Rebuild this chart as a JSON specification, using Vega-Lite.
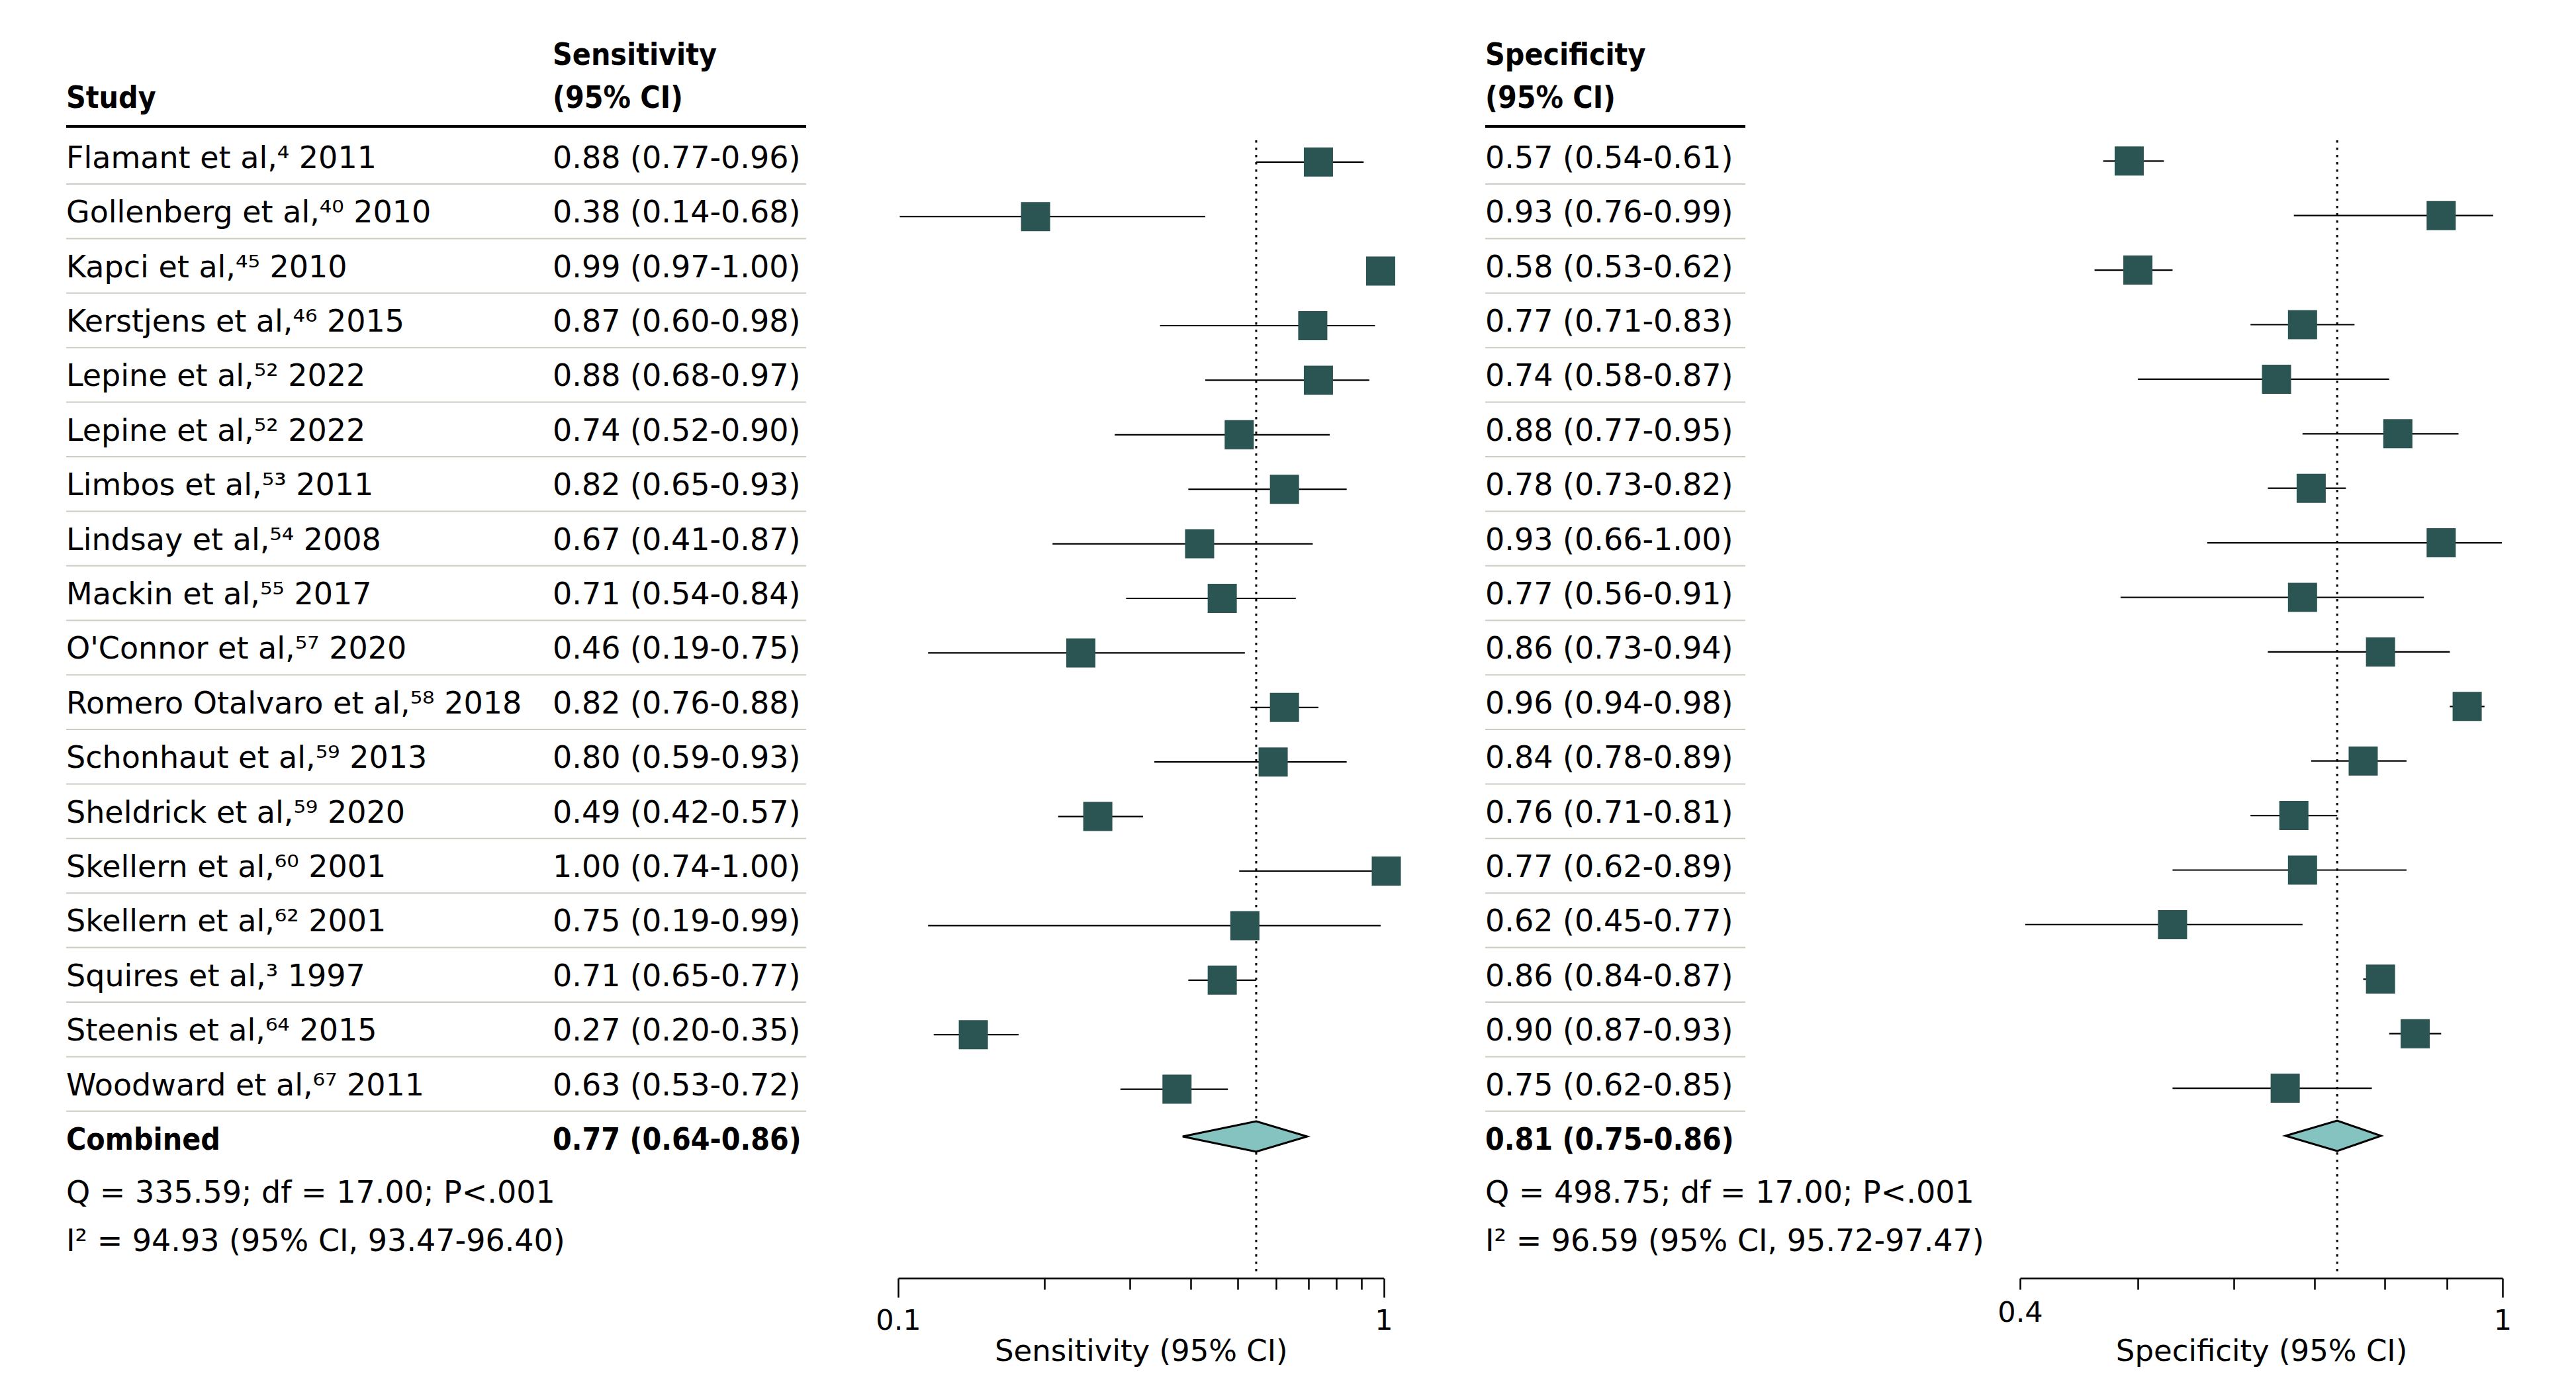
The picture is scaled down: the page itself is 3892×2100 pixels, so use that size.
{
  "$schema": "https://vega.github.io/schema/vega-lite/v6.json",
  "background": "white",
  "padding": {"left": 98, "top": 30.8, "right": 100, "bottom": 168},
  "bounds": "flush",
  "spacing": 0,
  "datasets": {
    "studies": [
      {"id": "1", "study": "Flamant et al,⁴ 2011", "sens": 0.88, "sensLo": 0.77, "sensHi": 0.96, "sensText": "0.88 (0.77-0.96)", "spec": 0.57, "specLo": 0.54, "specHi": 0.61, "specText": "0.57 (0.54-0.61)"},
      {"id": "2", "study": "Gollenberg et al,⁴⁰ 2010", "sens": 0.38, "sensLo": 0.14, "sensHi": 0.68, "sensText": "0.38 (0.14-0.68)", "spec": 0.93, "specLo": 0.76, "specHi": 0.99, "specText": "0.93 (0.76-0.99)"},
      {"id": "3", "study": "Kapci et al,⁴⁵ 2010", "sens": 0.99, "sensLo": 0.97, "sensHi": 1.0, "sensText": "0.99 (0.97-1.00)", "spec": 0.58, "specLo": 0.53, "specHi": 0.62, "specText": "0.58 (0.53-0.62)"},
      {"id": "4", "study": "Kerstjens et al,⁴⁶ 2015", "sens": 0.87, "sensLo": 0.6, "sensHi": 0.98, "sensText": "0.87 (0.60-0.98)", "spec": 0.77, "specLo": 0.71, "specHi": 0.83, "specText": "0.77 (0.71-0.83)"},
      {"id": "5", "study": "Lepine et al,⁵² 2022", "sens": 0.88, "sensLo": 0.68, "sensHi": 0.97, "sensText": "0.88 (0.68-0.97)", "spec": 0.74, "specLo": 0.58, "specHi": 0.87, "specText": "0.74 (0.58-0.87)"},
      {"id": "6", "study": "Lepine et al,⁵² 2022", "sens": 0.74, "sensLo": 0.52, "sensHi": 0.9, "sensText": "0.74 (0.52-0.90)", "spec": 0.88, "specLo": 0.77, "specHi": 0.95, "specText": "0.88 (0.77-0.95)"},
      {"id": "7", "study": "Limbos et al,⁵³ 2011", "sens": 0.82, "sensLo": 0.65, "sensHi": 0.93, "sensText": "0.82 (0.65-0.93)", "spec": 0.78, "specLo": 0.73, "specHi": 0.82, "specText": "0.78 (0.73-0.82)"},
      {"id": "8", "study": "Lindsay et al,⁵⁴ 2008", "sens": 0.67, "sensLo": 0.41, "sensHi": 0.87, "sensText": "0.67 (0.41-0.87)", "spec": 0.93, "specLo": 0.66, "specHi": 1.0, "specText": "0.93 (0.66-1.00)"},
      {"id": "9", "study": "Mackin et al,⁵⁵ 2017", "sens": 0.71, "sensLo": 0.54, "sensHi": 0.84, "sensText": "0.71 (0.54-0.84)", "spec": 0.77, "specLo": 0.56, "specHi": 0.91, "specText": "0.77 (0.56-0.91)"},
      {"id": "10", "study": "O'Connor et al,⁵⁷ 2020", "sens": 0.46, "sensLo": 0.19, "sensHi": 0.75, "sensText": "0.46 (0.19-0.75)", "spec": 0.86, "specLo": 0.73, "specHi": 0.94, "specText": "0.86 (0.73-0.94)"},
      {"id": "11", "study": "Romero Otalvaro et al,⁵⁸ 2018", "sens": 0.82, "sensLo": 0.76, "sensHi": 0.88, "sensText": "0.82 (0.76-0.88)", "spec": 0.96, "specLo": 0.94, "specHi": 0.98, "specText": "0.96 (0.94-0.98)"},
      {"id": "12", "study": "Schonhaut et al,⁵⁹ 2013", "sens": 0.8, "sensLo": 0.59, "sensHi": 0.93, "sensText": "0.80 (0.59-0.93)", "spec": 0.84, "specLo": 0.78, "specHi": 0.89, "specText": "0.84 (0.78-0.89)"},
      {"id": "13", "study": "Sheldrick et al,⁵⁹ 2020", "sens": 0.49, "sensLo": 0.42, "sensHi": 0.57, "sensText": "0.49 (0.42-0.57)", "spec": 0.76, "specLo": 0.71, "specHi": 0.81, "specText": "0.76 (0.71-0.81)"},
      {"id": "14", "study": "Skellern et al,⁶⁰ 2001", "sens": 1.0, "sensLo": 0.74, "sensHi": 1.0, "sensText": "1.00 (0.74-1.00)", "spec": 0.77, "specLo": 0.62, "specHi": 0.89, "specText": "0.77 (0.62-0.89)"},
      {"id": "15", "study": "Skellern et al,⁶² 2001", "sens": 0.75, "sensLo": 0.19, "sensHi": 0.99, "sensText": "0.75 (0.19-0.99)", "spec": 0.62, "specLo": 0.45, "specHi": 0.77, "specText": "0.62 (0.45-0.77)"},
      {"id": "16", "study": "Squires et al,³ 1997", "sens": 0.71, "sensLo": 0.65, "sensHi": 0.77, "sensText": "0.71 (0.65-0.77)", "spec": 0.86, "specLo": 0.84, "specHi": 0.87, "specText": "0.86 (0.84-0.87)"},
      {"id": "17", "study": "Steenis et al,⁶⁴ 2015", "sens": 0.27, "sensLo": 0.2, "sensHi": 0.35, "sensText": "0.27 (0.20-0.35)", "spec": 0.9, "specLo": 0.87, "specHi": 0.93, "specText": "0.90 (0.87-0.93)"},
      {"id": "18", "study": "Woodward et al,⁶⁷ 2011", "sens": 0.63, "sensLo": 0.53, "sensHi": 0.72, "sensText": "0.63 (0.53-0.72)", "spec": 0.75, "specLo": 0.62, "specHi": 0.85, "specText": "0.75 (0.62-0.85)"},
      {"id": "c", "study": "Combined", "sens": 0.77, "sensLo": 0.64, "sensHi": 0.86, "sensText": "0.77 (0.64-0.86)", "spec": 0.81, "specLo": 0.75, "specHi": 0.86, "specText": "0.81 (0.75-0.86)"}
    ]
  },
  "hconcat": [
    {
      "width": 735,
      "height": 1895.2,
      "encoding": {"y": {"field": "id", "type": "nominal", "scale": {"type": "band", "domain": ["h1","h2","1","2","3","4","5","6","7","8","9","10","11","12","13","14","15","16","17","18","c","q","i"], "paddingInner": 0, "paddingOuter": 0}, "axis": null}},
      "layer": [
        {"data": {"name": "studies"}, "transform": [{"filter": "datum.id != 'c'"}], "mark": {"type": "rule", "color": "#c8cfc2", "strokeWidth": 2}, "encoding": {"y": {"field": "id", "type": "nominal", "bandPosition": 1}}},
        {"data": {"values": [{"id": "h2"}]}, "mark": {"type": "rule", "color": "black", "strokeWidth": 4, "yOffset": -4.6}, "encoding": {"y": {"field": "id", "type": "nominal", "bandPosition": 1}}},
        {"data": {"name": "studies"}, "transform": [{"filter": "datum.id != 'c'"}], "mark": {"type": "text", "dy": 3}, "encoding": {"x": {"value": 0}, "text": {"field": "study"}}},
        {"data": {"name": "studies"}, "transform": [{"filter": "datum.id == 'c'"}], "mark": {"type": "text", "dy": 3, "fontWeight": "bold", "font": "DejaVu Sans Condensed, DejaVu Sans"}, "encoding": {"x": {"value": 0}, "text": {"field": "study"}}},
        {"data": {"values": [{"id": "h2", "text": "Study"}]}, "mark": {"type": "text", "dy": -5, "fontWeight": "bold", "font": "DejaVu Sans Condensed, DejaVu Sans"}, "encoding": {"x": {"value": 0}, "text": {"field": "text"}}},
        {"data": {"values": [{"id": "q", "text": "Q = 335.59; df = 17.00; P<.001"}]}, "mark": {"type": "text", "dy": 1}, "encoding": {"x": {"value": 0}, "text": {"field": "text"}}},
        {"data": {"values": [{"id": "i", "text": "I² = 94.93 (95% CI, 93.47-96.40)"}]}, "mark": {"type": "text", "dy": -9}, "encoding": {"x": {"value": 0}, "text": {"field": "text"}}}
      ]
    },
    {
      "width": 383,
      "height": 1895.2,
      "encoding": {"y": {"field": "id", "type": "nominal", "scale": {"type": "band", "domain": ["h1","h2","1","2","3","4","5","6","7","8","9","10","11","12","13","14","15","16","17","18","c","q","i"], "paddingInner": 0, "paddingOuter": 0}, "axis": null}},
      "layer": [
        {"data": {"name": "studies"}, "transform": [{"filter": "datum.id != 'c'"}], "mark": {"type": "rule", "color": "#c8cfc2", "strokeWidth": 2}, "encoding": {"y": {"field": "id", "type": "nominal", "bandPosition": 1}}},
        {"data": {"values": [{"id": "h2"}]}, "mark": {"type": "rule", "color": "black", "strokeWidth": 4, "yOffset": -4.6}, "encoding": {"y": {"field": "id", "type": "nominal", "bandPosition": 1}}},
        {"data": {"name": "studies"}, "transform": [{"filter": "datum.id != 'c'"}], "mark": {"type": "text", "dy": 3}, "encoding": {"x": {"value": 0}, "text": {"field": "sensText"}}},
        {"data": {"name": "studies"}, "transform": [{"filter": "datum.id == 'c'"}], "mark": {"type": "text", "dy": 3, "fontWeight": "bold", "font": "DejaVu Sans Condensed, DejaVu Sans"}, "encoding": {"x": {"value": 0}, "text": {"field": "sensText"}}},
        {"data": {"values": [{"id": "h1", "text": "Sensitivity"}]}, "mark": {"type": "text", "dy": 12, "fontWeight": "bold", "font": "DejaVu Sans Condensed, DejaVu Sans"}, "encoding": {"x": {"value": 0}, "text": {"field": "text"}}},
        {"data": {"values": [{"id": "h2", "text": "(95% CI)"}]}, "mark": {"type": "text", "dy": -5, "fontWeight": "bold", "font": "DejaVu Sans Condensed, DejaVu Sans"}, "encoding": {"x": {"value": 0}, "text": {"field": "text"}}}
      ]
    },
    {"width": 138.5, "height": 1895.2, "data": {"values": []}, "mark": "point"},
    {
      "width": 733.5,
      "height": 1895.2,
      "data": {"name": "studies"},
      "encoding": {"y": {"field": "id", "type": "nominal", "scale": {"type": "band", "domain": ["h1","h2","1","2","3","4","5","6","7","8","9","10","11","12","13","14","15","16","17","18","c","q","i"], "paddingInner": 0, "paddingOuter": 0}, "axis": null}},
      "layer": [
        {
          "transform": [{"filter": "datum.id == 'c'"}],
          "mark": {"type": "point", "opacity": 0},
          "encoding": {
            "x": {"field": "sens", "type": "quantitative", "scale": {"type": "log", "domain": [0.1, 1], "nice": false},
              "axis": {"orient": "bottom", "offset": 5, "values": [0.1, 0.2, 0.3, 0.4, 0.5, 0.6, 0.7, 0.8, 0.9, 1],
                "labelExpr": "datum.value == 1 ? '1' : (datum.value == 0.1 ? '0.1' : '')",
                "tickSize": {"condition": {"test": "datum.value == 0.1 || datum.value == 1", "value": 29}, "value": 17},
                "tickWidth": 2.5, "tickColor": "black", "domainColor": "black", "domainWidth": 2.5, "grid": false,
                "labelFontSize": 43, "labelColor": "black", "labelPadding": 14, "labelOverlap": false, "labelFlush": false, "labelBound": false,
                "title": "Sensitivity (95% CI)", "titleFontSize": 45, "titleFontWeight": "normal", "titleColor": "black", "titlePadding": 2}}
          }
        },
        {
          "encoding": {"x": {"field": "sens", "type": "quantitative", "scale": {"type": "linear", "domain": [0.1371, 0.9953], "nice": false, "zero": false}, "axis": null}},
          "layer": [
            {"transform": [{"filter": "datum.id == 'c'"}], "mark": {"type": "rule", "color": "black", "strokeWidth": 3, "strokeDash": [3.5, 7.5]},
              "encoding": {"y": {"datum": "1", "type": "nominal", "bandPosition": 0.2}, "y2": {"value": "height"}}},
            {"transform": [{"filter": "datum.id != 'c'"}], "mark": {"type": "rule", "color": "black", "strokeWidth": 2.2, "yOffset": 8},
              "encoding": {"x": {"field": "sensLo", "type": "quantitative"}, "x2": {"field": "sensHi"}}},
            {"transform": [{"filter": "datum.id != 'c'"}], "mark": {"type": "point", "shape": "square", "filled": true, "size": 1936, "color": "#2b5553", "opacity": 1, "strokeWidth": 0, "yOffset": 8}},
            {"transform": [{"filter": "datum.id == 'c'"}], "mark": {"type": "point", "shape": "M-4.83,0L0,-1L3.35,0L0,1Z", "size": 2116, "filled": true, "fill": "#85c3c1", "stroke": "black", "strokeWidth": 3, "opacity": 1, "yOffset": -3}}
          ]
        }
      ],
      "resolve": {"scale": {"x": "independent"}}
    },
    {"width": 153, "height": 1895.2, "data": {"values": []}, "mark": "point"},
    {
      "width": 393,
      "height": 1895.2,
      "encoding": {"y": {"field": "id", "type": "nominal", "scale": {"type": "band", "domain": ["h1","h2","1","2","3","4","5","6","7","8","9","10","11","12","13","14","15","16","17","18","c","q","i"], "paddingInner": 0, "paddingOuter": 0}, "axis": null}},
      "layer": [
        {"data": {"name": "studies"}, "transform": [{"filter": "datum.id != 'c'"}], "mark": {"type": "rule", "color": "#c8cfc2", "strokeWidth": 2}, "encoding": {"y": {"field": "id", "type": "nominal", "bandPosition": 1}}},
        {"data": {"values": [{"id": "h2"}]}, "mark": {"type": "rule", "color": "black", "strokeWidth": 4, "yOffset": -4.6}, "encoding": {"y": {"field": "id", "type": "nominal", "bandPosition": 1}}},
        {"data": {"name": "studies"}, "transform": [{"filter": "datum.id != 'c'"}], "mark": {"type": "text", "dy": 3}, "encoding": {"x": {"value": 0}, "text": {"field": "specText"}}},
        {"data": {"name": "studies"}, "transform": [{"filter": "datum.id == 'c'"}], "mark": {"type": "text", "dy": 3, "fontWeight": "bold", "font": "DejaVu Sans Condensed, DejaVu Sans"}, "encoding": {"x": {"value": 0}, "text": {"field": "specText"}}},
        {"data": {"values": [{"id": "h1", "text": "Specificity"}]}, "mark": {"type": "text", "dy": 12, "fontWeight": "bold", "font": "DejaVu Sans Condensed, DejaVu Sans"}, "encoding": {"x": {"value": 0}, "text": {"field": "text"}}},
        {"data": {"values": [{"id": "h2", "text": "(95% CI)"}]}, "mark": {"type": "text", "dy": -5, "fontWeight": "bold", "font": "DejaVu Sans Condensed, DejaVu Sans"}, "encoding": {"x": {"value": 0}, "text": {"field": "text"}}},
        {"data": {"values": [{"id": "q", "text": "Q = 498.75; df = 17.00; P<.001"}]}, "mark": {"type": "text", "dy": 1}, "encoding": {"x": {"value": 0}, "text": {"field": "text"}}},
        {"data": {"values": [{"id": "i", "text": "I² = 96.59 (95% CI, 95.72-97.47)"}]}, "mark": {"type": "text", "dy": -9}, "encoding": {"x": {"value": 0}, "text": {"field": "text"}}}
      ]
    },
    {"width": 415, "height": 1895.2, "data": {"values": []}, "mark": "point"},
    {
      "width": 729,
      "height": 1895.2,
      "data": {"name": "studies"},
      "encoding": {"y": {"field": "id", "type": "nominal", "scale": {"type": "band", "domain": ["h1","h2","1","2","3","4","5","6","7","8","9","10","11","12","13","14","15","16","17","18","c","q","i"], "paddingInner": 0, "paddingOuter": 0}, "axis": null}},
      "layer": [
        {
          "transform": [{"filter": "datum.id == 'c'"}],
          "mark": {"type": "point", "opacity": 0},
          "encoding": {
            "x": {"field": "spec", "type": "quantitative", "scale": {"type": "log", "domain": [0.4, 1], "nice": false},
              "axis": {"orient": "bottom", "offset": 5, "values": [0.4, 0.5, 0.6, 0.7, 0.8, 0.9, 1],
                "labelExpr": "datum.value == 1 ? '1' : (datum.value == 0.4 ? '0.4' : '')",
                "tickSize": {"condition": {"test": "datum.value == 1", "value": 29}, "value": 17},
                "tickWidth": 2.5, "tickColor": "black", "domainColor": "black", "domainWidth": 2.5, "grid": false,
                "labelFontSize": 43, "labelColor": "black", "labelPadding": 14, "labelOverlap": false, "labelFlush": false, "labelBound": false,
                "title": "Specificity (95% CI)", "titleFontSize": 45, "titleFontWeight": "normal", "titleColor": "black", "titlePadding": 2}}
          }
        },
        {
          "encoding": {"x": {"field": "spec", "type": "quantitative", "scale": {"type": "linear", "domain": [0.444, 1.0008], "nice": false, "zero": false}, "axis": null}},
          "layer": [
            {"transform": [{"filter": "datum.id == 'c'"}], "mark": {"type": "rule", "color": "black", "strokeWidth": 3, "strokeDash": [3.5, 7.5]},
              "encoding": {"y": {"datum": "1", "type": "nominal", "bandPosition": 0.2}, "y2": {"value": "height"}}},
            {"transform": [{"filter": "datum.id != 'c'"}], "mark": {"type": "rule", "color": "black", "strokeWidth": 2.2, "yOffset": 6.5},
              "encoding": {"x": {"field": "specLo", "type": "quantitative"}, "x2": {"field": "specHi"}}},
            {"transform": [{"filter": "datum.id != 'c'"}], "mark": {"type": "point", "shape": "square", "filled": true, "size": 1936, "color": "#2b5553", "opacity": 1, "strokeWidth": 0, "yOffset": 6.5}},
            {"transform": [{"filter": "datum.id == 'c'"}], "mark": {"type": "point", "shape": "M-3.39,0L0,-1L2.88,0L0,1Z", "size": 2116, "filled": true, "fill": "#85c3c1", "stroke": "black", "strokeWidth": 3, "opacity": 1, "yOffset": -4}}
          ]
        }
      ],
      "resolve": {"scale": {"x": "independent"}}
    }
  ],
  "config": {
    "view": {"stroke": null},
    "font": "DejaVu Sans",
    "text": {"font": "DejaVu Sans", "fontSize": 46, "align": "left", "baseline": "middle", "fill": "black"},
    "axis": {"labelFont": "DejaVu Sans", "titleFont": "DejaVu Sans"}
  }
}
